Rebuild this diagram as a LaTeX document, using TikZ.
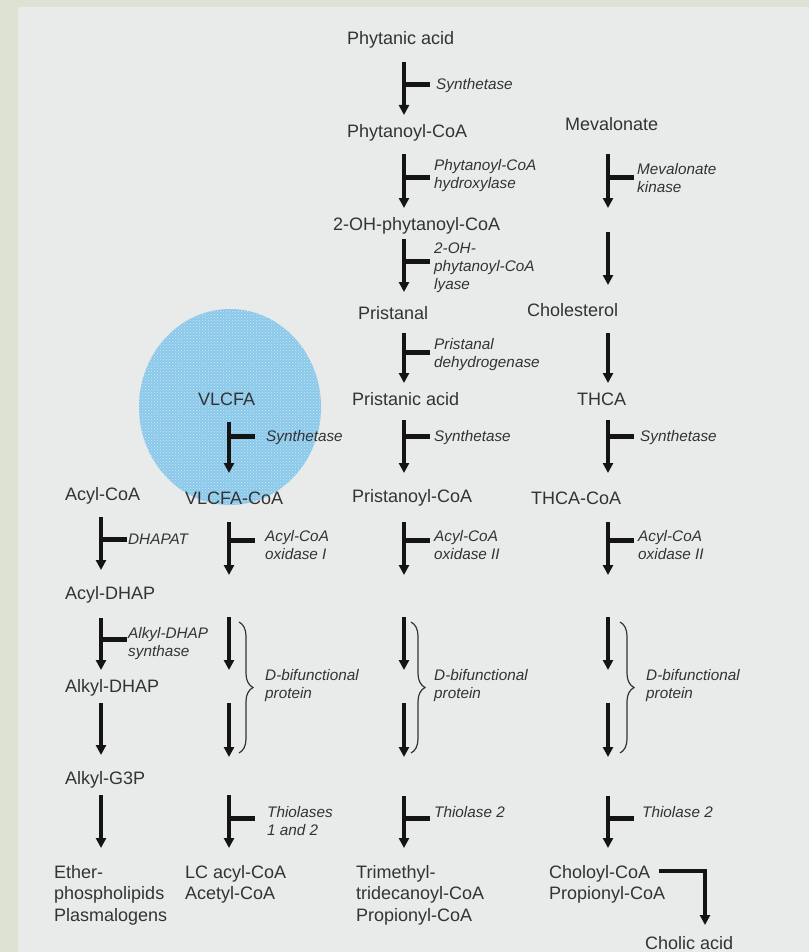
\documentclass[tikz,border=0pt]{standalone}
\usepackage{fontspec}
\setmainfont{Liberation Sans}
\usepackage{tikz}
\usetikzlibrary{
  arrows.meta,
  calc,
  patterns,
  decorations.pathreplacing
}
\definecolor{frame}{RGB}{222,226,210}
\definecolor{panel}{RGB}{233,234,234}
\definecolor{ink}{RGB}{51,51,51}
\definecolor{spot}{RGB}{138,200,234}
\definecolor{spotdot}{RGB}{205,232,246}
\tikzset{
  mol/.style={
    anchor=west,
    align=left,
    inner sep=0pt,
    text=ink,
    font=\fontsize{18}{21.5}\selectfont},
  enz/.style={
    anchor=west,
    align=left,
    inner sep=0pt,
    text=ink,
    font=\fontsize{15.3}{18}\selectfont\itshape},
  flow/.style={
    -{Triangle[length=10pt,width=10pt]},
    line width=3.2pt,
    black!92},
  enzbar/.style={
    anchor=west,
    fill=black!92,
    inner sep=0pt,
    minimum width=24pt,
    minimum height=5pt},
  dbp/.style={
    decorate,
    decoration={brace, amplitude=14pt},
    line width=1.2pt,
    ink}
  }

\begin{document}
\begin{tikzpicture}[x=1pt, y=-1pt]
      \useasboundingbox (0,0) rectangle (809,952);
      \fill [frame] (0,0) rectangle (809,952);
      \fill [panel] (18,7) rectangle (809,952);
      % highlighted spot round VLCFA
      \fill [spot] (230,407) ellipse [x radius=91pt, y radius=98pt];
      \fill [pattern=crosshatch dots, pattern color=spotdot] (230,407) ellipse [x radius=91pt, y radius=98pt];

      % phytanic acid
      \node [mol] (phy) at (347,40) {Phytanic acid};
      \node [mol] (phycoa) at (347,133) {Phytanoyl-CoA};
      \node [mol] (ohphy) at (333,226) {2-OH-phytanoyl-CoA};
      \node [mol] (prl) at (358,313) {Pristanal};
      \node [mol] (pra) at (352,399) {Pristanic acid};
      \node [mol] (prcoa) at (352,498) {Pristanoyl-CoA};
      \node [mol] (tmtd) at (356,895) {Trimethyl-\\tridecanoyl-CoA\\Propionyl-CoA};

      % bile acids
      \node [mol] (mev) at (565,124) {Mevalonate};
      \node [mol] (chol) at (527,310) {Cholesterol};
      \node [mol] (thca) at (577,399) {THCA};
      \node [mol] (thcacoa) at (531,498) {THCA-CoA};
      \node [mol] (choloyl) at (549,874) {Choloyl-CoA};
      \node [mol] (propcoa) at (549,895) {Propionyl-CoA};
      \node [mol] (cholic) at (645,943) {Cholic acid};

      % VLCFA
      \node [mol] (vlcfa) at (198,399) {VLCFA};
      \node [mol] (vlcfacoa) at (185,498) {VLCFA-CoA};
      \node [mol] (lcacyl) at (185,884.5) {LC acyl-CoA\\Acetyl-CoA};

      % ether lipids
      \node [mol] (acylcoa) at (65,496) {Acyl-CoA};
      \node [mol] (acyldhap) at (65,595) {Acyl-DHAP};
      \node [mol] (alkyldhap) at (65,688) {Alkyl-DHAP};
      \node [mol] (alkylg3p) at (65,780) {Alkyl-G3P};
      \node [mol] (ether) at (54,895) {Ether-\\phospholipids\\Plasmalogens};

      % enzymes
      \node [enz] (ce1) at (436,86) {Synthetase};
      \node [enz] (ce2) at (434,176) {Phytanoyl-CoA\\hydroxylase};
      \node [enz] (ce3) at (434,268) {2-OH-\\phytanoyl-CoA\\lyase};
      \node [enz] (ce4) at (434,355) {Pristanal\\dehydrogenase};
      \node [enz] (ce5) at (434,438) {Synthetase};
      \node [enz] (ce6) at (434,545) {Acyl-CoA\\oxidase II};
      \node [enz] (ce7) at (434,686) {D-bifunctional\\protein};
      \node [enz] (ce9) at (434,812) {Thiolase 2};
      \node [enz] (de1) at (637,178) {Mevalonate\\kinase};
      \node [enz] (de4) at (640,438) {Synthetase};
      \node [enz] (de5) at (638,545) {Acyl-CoA\\oxidase II};
      \node [enz] (de6) at (646,686) {D-bifunctional\\protein};
      \node [enz] (de8) at (642,812) {Thiolase 2};
      \node [enz] (be1) at (266,438) {Synthetase};
      \node [enz] (be2) at (265,545) {Acyl-CoA\\oxidase I};
      \node [enz] (be3) at (265,686) {D-bifunctional\\protein};
      \node [enz] (be5) at (267,821) {Thiolases\\1 and 2};
      \node [enz] (ae1) at (128,539) {DHAPAT};
      \node [enz] (ae2) at (128,644) {Alkyl-DHAP\\synthase};

      % arrow ends
      \coordinate (c1t) at (404,62);  \coordinate (c1b) at (404,115);
      \coordinate (c2t) at (404,154); \coordinate (c2b) at (404,208);
      \coordinate (c3t) at (404,239); \coordinate (c3b) at (404,292);
      \coordinate (c4t) at (404,333); \coordinate (c4b) at (404,383);
      \coordinate (c5t) at (404,420); \coordinate (c5b) at (404,473);
      \coordinate (c6t) at (404,522); \coordinate (c6b) at (404,575);
      \coordinate (c7t) at (404,617); \coordinate (c7b) at (404,670);
      \coordinate (c8t) at (404,703); \coordinate (c8b) at (404,757);
      \coordinate (c9t) at (404,796); \coordinate (c9b) at (404,848);
      \coordinate (d1t) at (608,154); \coordinate (d1b) at (608,208);
      \coordinate (d2t) at (608,232); \coordinate (d2b) at (608,285);
      \coordinate (d3t) at (608,333); \coordinate (d3b) at (608,383);
      \coordinate (d4t) at (608,420); \coordinate (d4b) at (608,473);
      \coordinate (d5t) at (608,522); \coordinate (d5b) at (608,575);
      \coordinate (d6t) at (608,617); \coordinate (d6b) at (608,670);
      \coordinate (d7t) at (608,703); \coordinate (d7b) at (608,757);
      \coordinate (d8t) at (608,796); \coordinate (d8b) at (608,848);
      \coordinate (b1t) at (229,422); \coordinate (b1b) at (229,473);
      \coordinate (b2t) at (229,522); \coordinate (b2b) at (229,575);
      \coordinate (b3t) at (229,617); \coordinate (b3b) at (229,670);
      \coordinate (b4t) at (229,703); \coordinate (b4b) at (229,757);
      \coordinate (b5t) at (229,795); \coordinate (b5b) at (229,848);
      \coordinate (a1t) at (101,517); \coordinate (a1b) at (101,570);
      \coordinate (a2t) at (101,618); \coordinate (a2b) at (101,670);
      \coordinate (a3t) at (101,703); \coordinate (a3b) at (101,755);
      \coordinate (a4t) at (101,795); \coordinate (a4b) at (101,848);
      \coordinate (cholin) at (705,925);

      % phytanic acid column
      \draw [flow] (c1t) to node [enzbar, pos=.42] (cb1) {} (c1b);
      \draw [flow] (c2t) to node [enzbar, pos=.43] (cb2) {} (c2b);
      \draw [flow] (c3t) to node [enzbar, pos=.43] (cb3) {} (c3b);
      \draw [flow] (c4t) to node [enzbar, pos=.38] (cb4) {} (c4b);
      \draw [flow] (c5t) to node [enzbar, pos=.32] (cb5) {} (c5b);
      \draw [flow] (c6t) to node [enzbar, pos=.34] (cb6) {} (c6b);
      \draw [flow] (c7t) to (c7b);
      \draw [flow] (c8t) to (c8b);
      \draw [flow] (c9t) to node [enzbar, pos=.44] (cb9) {} (c9b);
      \draw [dbp] ([shift={(7,5)}]c7t) to ([shift={(7,-4)}]c8b);

      % bile acid column
      \draw [flow] (d1t) to node [enzbar, pos=.44] (db1) {} (d1b);
      \draw [flow] (d2t) to (d2b);
      \draw [flow] (d3t) to (d3b);
      \draw [flow] (d4t) to node [enzbar, pos=.32] (db4) {} (d4b);
      \draw [flow] (d5t) to node [enzbar, pos=.34] (db5) {} (d5b);
      \draw [flow] (d6t) to (d6b);
      \draw [flow] (d7t) to (d7b);
      \draw [flow] (d8t) to node [enzbar, pos=.44] (db8) {} (d8b);
      \draw [dbp] ([shift={(12,5)}]d6t) to ([shift={(12,-4)}]d7b);
      \draw [flow] ([shift={(9,-3)}]choloyl.east) -| (cholin);

      % VLCFA column
      \draw [flow] (b1t) to node [enzbar, pos=.29] (bb1) {} (b1b);
      \draw [flow] (b2t) to node [enzbar, pos=.34] (bb2) {} (b2b);
      \draw [flow] (b3t) to (b3b);
      \draw [flow] (b4t) to (b4b);
      \draw [flow] (b5t) to node [enzbar, pos=.45] (bb5) {} (b5b);
      \draw [dbp] ([shift={(10,5)}]b3t) to ([shift={(10,-4)}]b4b);

      % ether lipid column
      \draw [flow] (a1t) to node [enzbar, pos=.42] (ab1) {} (a1b);
      \draw [flow] (a2t) to node [enzbar, pos=.42] (ab2) {} (a2b);
      \draw [flow] (a3t) to (a3b);
      \draw [flow] (a4t) to (a4b);
    \end{tikzpicture}
\end{document}
